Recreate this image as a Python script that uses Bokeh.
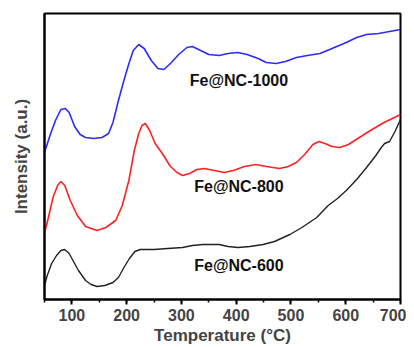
from bokeh.plotting import figure
from bokeh.models import SingleIntervalTicker, FixedTicker, Range1d
from bokeh.core.properties import value
from bokeh.embed import file_html
from bokeh.resources import INLINE

# Temperature (°C) and intensity (a.u.)
x_1000 = [50, 60, 70, 80, 88, 95, 105, 115, 125, 140, 155, 167, 175, 185, 195, 203, 212, 222, 232, 245,
          257, 268, 280, 295, 310, 320, 335, 350, 369, 385, 403, 420, 440, 455, 473, 490, 510, 530, 553,
          575, 601, 620, 638, 660, 680, 700]
pix_1000 = [152, 135, 120, 109, 108, 112, 126, 134, 137, 138, 137, 133, 122, 100, 80, 65, 50, 44, 48, 60,
            68, 69, 63, 54, 47, 46, 50, 54, 55, 53, 52, 54, 58, 62, 63, 61, 57, 55, 53,
            48, 42, 37, 34, 33, 31, 29]

x_800 = [50, 58, 66, 74, 80, 87, 97, 110, 125, 146, 162, 180, 192, 204, 214, 222, 228, 234, 242, 252,
         265, 280, 292, 302, 315, 328, 342, 360, 378, 395, 415, 436, 455, 479, 495, 510, 525, 540, 551,
         562, 575, 589, 605, 625, 645, 670, 700]
pix_800 = [233, 215, 196, 185, 181, 185, 200, 215, 226, 230, 227, 220, 205, 180, 150, 133, 125, 123, 130, 143,
           153, 166, 172, 175, 173, 169, 168, 170, 172, 170, 166, 164, 166, 168, 166, 162, 154, 144, 141,
           143, 146, 147, 144, 137, 130, 122, 114]

x_600 = [50, 55, 63, 72, 80, 87, 95, 104, 112, 125, 135, 146, 160, 175, 185, 195, 205, 215, 225, 250,
         275, 302, 320, 339, 369, 385, 403, 425, 449, 470, 498, 520, 547, 568, 585, 601, 620, 638, 655,
         665, 671, 680, 690, 700]
pix_600 = [285, 275, 263, 255, 250, 249, 253, 262, 270, 280, 284, 286, 285, 282, 277, 267, 258, 251, 249, 249,
           248, 247, 245, 244, 244, 246, 247, 246, 244, 241, 234, 227, 217, 205, 198, 190, 179, 167, 155,
           147, 143, 141, 131, 119]

BASE = 299
y_1000 = [BASE - v for v in pix_1000]
y_800 = [BASE - v for v in pix_800]
y_600 = [BASE - v for v in pix_600]

labels = ["Fe@NC-1000", "Fe@NC-800", "Fe@NC-600"]
label_x = [405, 405, 405]
label_y = [BASE - 80, BASE - 186, BASE - 265]

FONT = "Liberation Sans"

p = figure(width=406, height=347, output_backend="svg", toolbar_location=None,
           x_range=Range1d(50, 700), y_range=Range1d(0, 286),
           min_border_left=44, min_border_right=6, min_border_top=13, min_border_bottom=47)
p.grid.visible = False
p.outline_line_color = "black"
p.outline_line_width = 2
p.background_fill_color = "white"

p.line(x_1000, y_1000, line_color="#2b2bff", line_width=1.6)
p.line(x_800, y_800, line_color="#ff2020", line_width=1.6)
p.line(x_600, y_600, line_color="#222222", line_width=1.4)

p.text(label_x, label_y, text=labels, text_font=value(FONT), text_font_style="bold",
       text_font_size="16px", text_align="center", text_baseline="middle", text_color="#111111")

xa = p.xaxis[0]
xa.ticker = SingleIntervalTicker(interval=100, num_minor_ticks=2)
xa.axis_label = "Temperature (°C)"
xa.axis_label_text_font = FONT
xa.axis_label_text_font_style = "bold"
xa.axis_label_text_font_size = "17px"
xa.axis_label_standoff = 2
xa.major_label_text_font = FONT
xa.major_label_text_font_style = "bold"
xa.major_label_text_font_size = "16px"
xa.major_label_standoff = 4
xa.axis_line_width = 2
xa.major_tick_line_width = 2
xa.minor_tick_line_width = 1.5
xa.major_tick_out = 5
xa.major_tick_in = 0
xa.minor_tick_out = 3
xa.minor_tick_in = 0

ya = p.yaxis[0]
ya.ticker = FixedTicker(ticks=[])
ya.axis_label = "Intensity (a.u.)"
ya.axis_label_text_font = FONT
ya.axis_label_text_font_style = "bold"
ya.axis_label_text_font_size = "17px"
ya.axis_label_standoff = 14
ya.major_label_text_font_size = "0px"
ya.major_label_standoff = 0
ya.major_tick_out = 0
ya.minor_tick_out = 0
ya.axis_line_width = 2

open("out.html", "w").write(file_html(p, INLINE))
